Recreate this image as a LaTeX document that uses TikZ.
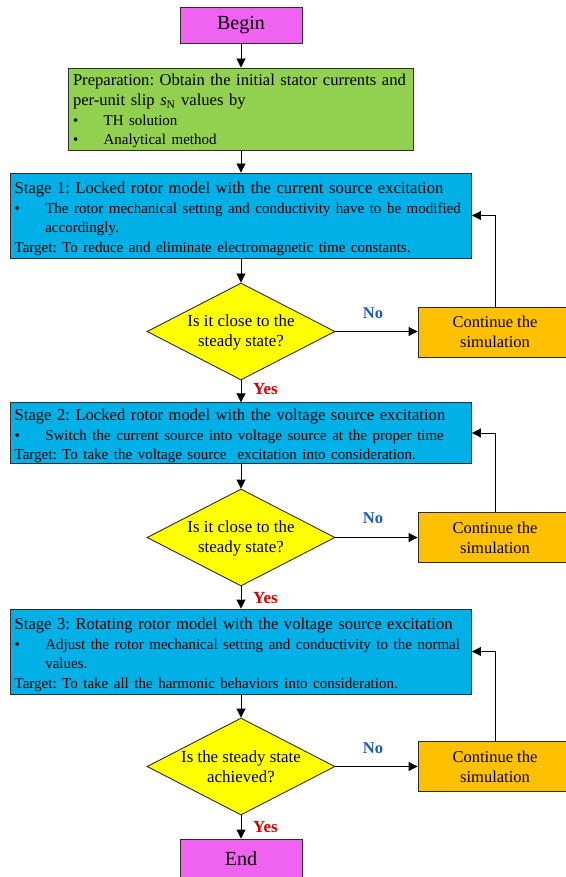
\documentclass[tikz,border=0pt]{standalone}
\usepackage{fontspec}
\setmainfont{Liberation Serif}
\usetikzlibrary{arrows.meta,shapes.geometric}
\definecolor{cBegin}{RGB}{240,98,240}
\definecolor{cPrep}{RGB}{146,208,80}
\definecolor{cStage}{RGB}{0,176,230}
\definecolor{cDec}{RGB}{255,255,0}
\definecolor{cCont}{RGB}{255,192,0}
\definecolor{cNo}{RGB}{30,90,190}
\definecolor{cYes}{RGB}{210,0,0}
\definecolor{cLine}{RGB}{45,45,45}
\newcommand{\itembul}{\makebox[30.6pt][l]{\textbullet}}
\newcommand{\smtext}{\fontsize{15}{19.6}\selectfont}
\newcommand{\topstrut}{\rule{0pt}{18pt}}
\frenchspacing
\begin{document}
\begin{tikzpicture}[x=1pt,y=-1pt,
 box/.style={draw=cLine, line width=0.9pt, inner sep=0pt},
 term/.style={box, fill=cBegin, minimum width=122pt, font=\fontsize{20}{24}\selectfont},
 textbox/.style={box, inner xsep=4.2pt, align=left, font=\fontsize{16.6}{19.6}\selectfont},
 dec/.style={box, diamond, fill=cDec, minimum width=188pt, minimum height=97pt},
 cont/.style={box, fill=cCont, align=center, minimum width=154pt, minimum height=50pt, font=\fontsize{16.5}{20}\selectfont},
 dtext/.style={align=center, font=\fontsize{16.9}{20}\selectfont, inner sep=0pt},
 arr/.style={draw=black, line width=0.9pt, -{Triangle[length=9pt,width=9pt]}},
 nolab/.style={font=\fontsize{16.5}{18}\selectfont\bfseries, text=cNo, inner sep=0pt},
 yeslab/.style={font=\fontsize{17}{18}\selectfont\bfseries, text=cYes, inner sep=0pt, anchor=west},
]
\useasboundingbox (0,0) rectangle (565,877);
\fill[white] (0,0) rectangle (565,877);

\node[term, minimum height=36pt] (begin) at (241,25) {Begin};

\node[textbox, fill=cPrep, text width=336pt, minimum width=344.5pt, minimum height=82pt] (prep) at (241,109)
 {\mbox{\rule{0pt}{16pt}Preparation: Obtain the initial stator currents and}\\
  \mbox{per-unit slip \textit{s}\textsubscript{N} values by}\\
  {\smtext\itembul TH solution}\\
  {\smtext\itembul Analytical method}};

\node[textbox, fill=cStage, text width=452.6pt, minimum width=461pt, minimum height=85pt] (st1) at (241,215.5)
 {\mbox{\topstrut Stage 1: Locked rotor model with the current source excitation}\\
  \mbox{\smtext\itembul The rotor mechanical setting and conductivity have to be modified}\\
  {\smtext\hspace*{30.6pt}accordingly.}\\
  \mbox{\smtext Target: To reduce and eliminate electromagnetic time constants.}};

\node[dec] (d1) at (241,331.5) {};
\node[dtext] (d1t) at (241,332) {Is it close to the\\steady state?};
\node[cont] (c1) at (495,332) {Continue the\\simulation};

\node[textbox, fill=cStage, text width=452.6pt, minimum width=461pt, minimum height=60pt] (st2) at (241,433)
 {\mbox{\topstrut Stage 2: Locked rotor model with the voltage source excitation}\\
  \mbox{\smtext\itembul Switch the current source into voltage source at the proper time}\\
  \mbox{\smtext Target: To take the voltage source\ \ excitation into consideration.}};

\node[dec] (d2) at (241,537.5) {};
\node[dtext] (d2t) at (241,538) {Is it close to the\\steady state?};
\node[cont] (c2) at (495,537.5) {Continue the\\simulation};

\node[textbox, fill=cStage, text width=452.6pt, minimum width=461pt, minimum height=85pt] (st3) at (241,651.5)
 {\mbox{\topstrut Stage 3: Rotating rotor model with the voltage source excitation}\\
  \mbox{\smtext\itembul Adjust the rotor mechanical setting and conductivity to the normal}\\
  {\smtext\hspace*{30.6pt}values.}\\
  \mbox{\smtext Target: To take all the harmonic behaviors into consideration.}};

\node[dec] (d3) at (241,766.5) {};
\node[dtext] (d3t) at (241,767) {Is the steady state\\achieved?};
\node[cont] (c3) at (495,766.5) {Continue the\\simulation};

\node[term, minimum height=40pt] (end) at (241,859) {End};

% vertical flow
\draw[arr] (begin) -- (prep);
\draw[arr] (prep) -- (st1);
\draw[arr] (st1) -- (d1);
\draw[arr] (d1) -- (st2);
\draw[arr] (st2) -- (d2);
\draw[arr] (d2) -- (st3);
\draw[arr] (st3) -- (d3);
\draw[arr] (d3) -- (end);

% no branches
\draw[arr] (d1.east) -- (d1.east -| c1.west);
\draw[arr] (d2.east) -- (d2.east -| c2.west);
\draw[arr] (d3.east) -- (d3.east -| c3.west);

% feedback
\draw[arr] (c1.north) |- (st1.east);
\draw[arr] (c2.north) |- (st2.east);
\draw[arr] (c3.north) |- (st3.east);

% labels
\node[nolab] (no1) at (373,313) {No};
\node[nolab] (no2) at (373,518) {No};
\node[nolab] (no3) at (373,748) {No};
\node[yeslab] (yes1) at (253,389) {Yes};
\node[yeslab] (yes2) at (253,598) {Yes};
\node[yeslab] (yes3) at (253,827) {Yes};
\end{tikzpicture}
\end{document}
